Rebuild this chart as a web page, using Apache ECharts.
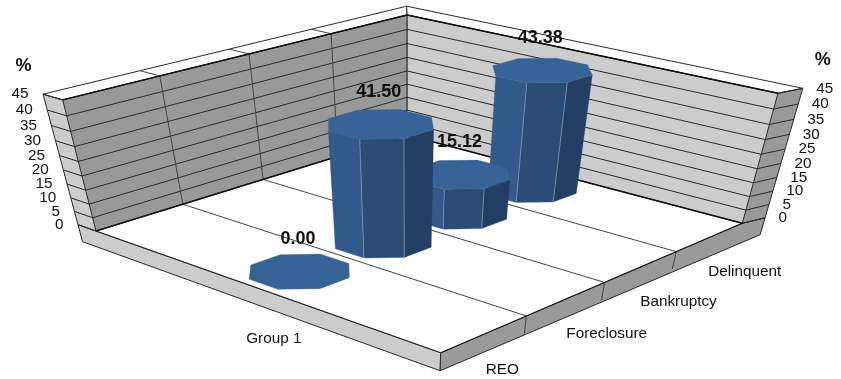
<!DOCTYPE html>
<html>
<head>
<meta charset="utf-8">
<style>html,body{margin:0;padding:0;background:#fff}#chart{width:841px;height:379px}</style>
<script src="https://cdn.jsdelivr.net/npm/echarts@6/dist/echarts.min.js"></script>
</head>
<body>
<div id="chart"></div>
<script>
// Chart content
const categories = ['Group 1'];
const seriesNames = ['REO', 'Foreclosure', 'Bankruptcy', 'Delinquent'];
const seriesValues = [0.00, 41.50, 15.12, 43.38];
const valueTicks = [0, 5, 10, 15, 20, 25, 30, 35, 40, 45];
const axisTitle = '%';

// Camera: floor corners in pixels, vertical vanishing point, wall top at the back corner
const floorA = [96, 231], floorB = [440.7, 352.7], floorC = [742.3, 223.3], floorD = [407, 135];
const verticalVanish = [406, 1450];
const backTopY = 15;
const yMax = 45, baseDepth = 6.6, wallU = 0.062, wallS = 0.265, rightOuterU = 1.016;
const barU = 0.101, barS = 0.41, barCentreU = 0.502, columnScale = 0.975;

// Colours
const wallDark = '#999999', wallLight = '#cccccc', ink = '#2a2a2a';
const barTop = '#376397', barFaces = { left: '#325a8a', mid: '#2b4d75', right: '#233f63' }, barEdge = '#7f96b6';
const FONT = '"Liberation Sans", Arial, sans-serif';

// Perspective mapping of (u across the group, s along the series, h up) to pixels
const [wA, wB, wC] = (function () {
  const [ax, ay] = floorA, [bx, by] = floorB, [cx, cy] = floorC, [dx, dy] = floorD;
  const a11 = ax - bx, a12 = cx - bx, r1 = dx - bx;
  const a21 = ay - by, a22 = cy - by, r2 = dy - by;
  const det = a11 * a22 - a12 * a21;
  const a = (r1 * a22 - a12 * r2) / det, c = (a11 * r2 - r1 * a21) / det;
  return [a, a + c - 1, c];
})();
const hom = (p, w) => [p[0] * w, p[1] * w, w];
const p0 = hom(floorA, wA), p10 = hom(floorB, wB), p01 = hom(floorD, 1);
const du = p10.map((v, i) => v - p0[i]), ds = p01.map((v, i) => v - p0[i]);
const rTop = (backTopY - floorD[1]) / (verticalVanish[1] - backTopY);
const kV = hom(verticalVanish, rTop / yMax);
function project(u, s, h) {
  const t = s / seriesNames.length;
  const q = [0, 1, 2].map(i => p0[i] + u * du[i] + t * ds[i] + h * kV[i]);
  return [q[0] / q[2], q[1] / q[2]];
}

function poly(points, fill, stroke, lw) {
  return { type: 'polygon', shape: { points }, silent: true,
    style: { fill, stroke: stroke || fill, lineWidth: lw === undefined ? 0.6 : lw } };
}
function seg(a, b, lw, color) {
  return { type: 'line', shape: { x1: a[0], y1: a[1], x2: b[0], y2: b[1] }, silent: true,
    style: { stroke: color || ink, lineWidth: lw || 1, fill: null } };
}
function label(text, x, y, size, weight, align) {
  return { type: 'text', silent: true, style: { text, x, y, fontSize: size, fontWeight: weight || 'normal',
    fontFamily: FONT, fill: '#111', align: align || 'center', verticalAlign: 'middle' } };
}

// Walls, floor and base plate with their grid lines
function renderFrame() {
  const n = seriesNames.length, P = project, kids = [];
  const uOut = -wallU, sOut = n + wallS, uR = rightOuterU;
  // base plate
  kids.push(poly([P(uOut, 0, 0), P(1, 0, 0), P(1, 0, -baseDepth), P(uOut, 0, -baseDepth)], wallLight, ink, 1));
  kids.push(poly([P(1, 0, 0), P(1, n, 0), P(uR, sOut, 0), P(uR, sOut, -baseDepth), P(1, 0, -baseDepth)], wallDark, ink, 1));
  // floor
  kids.push(poly([P(0, 0, 0), P(1, 0, 0), P(1, n, 0), P(0, n, 0)], '#ffffff', '#ffffff', 0));
  // wall faces, tops and ends
  kids.push(poly([P(0, 0, 0), P(0, n, 0), P(0, n, yMax), P(0, 0, yMax)], wallDark));
  kids.push(poly([P(0, n, 0), P(1, n, 0), P(1, n, yMax), P(0, n, yMax)], wallLight));
  kids.push(poly([P(uOut, 0, 0), P(0, 0, 0), P(0, 0, yMax), P(uOut, 0, yMax)], wallLight, ink, 1));
  kids.push(poly([P(1, n, 0), P(uR, sOut, 0), P(uR, sOut, yMax), P(1, n, yMax)], wallDark, ink, 1));
  kids.push(poly([P(uOut, 0, yMax), P(0, 0, yMax), P(0, n, yMax), P(uOut, sOut, yMax)], '#ffffff', ink, 1));
  kids.push(poly([P(uOut, sOut, yMax), P(0, n, yMax), P(1, n, yMax), P(uR, sOut, yMax)], '#ffffff', ink, 1));
  // horizontal grid lines
  valueTicks.forEach(v => {
    kids.push(seg(P(uOut, 0, v), P(0, 0, v), 1));
    kids.push(seg(P(0, 0, v), P(0, n, v), 1));
    kids.push(seg(P(0, n, v), P(1, n, v), 1));
    kids.push(seg(P(1, n, v), P(uR, sOut, v), 1));
  });
  // series dividers across the floor, up the wall, over its top and down the base
  for (let s = 1; s < n; s++) {
    kids.push(seg(P(0, s, 0), P(1, s, 0), 1, '#444'));
    kids.push(seg(P(0, s, 0), P(0, s, yMax), 1, '#444'));
    kids.push(seg(P(0, s, yMax), P(uOut, s, yMax), 1, '#444'));
    kids.push(seg(P(1, s, 0), P(1, s, -baseDepth), 1, '#444'));
  }
  // heavier edges where the walls meet the floor and at the wall tops
  kids.push(seg(P(0, 0, 0), P(1, 0, 0), 1.2, '#222'));
  kids.push(seg(P(0, 0, 0), P(0, n, 0), 1.4, '#111'));
  kids.push(seg(P(0, n, 0), P(1, n, 0), 1.4, '#111'));
  kids.push(seg(P(1, 0, 0), P(1, n, 0), 1.2, '#111'));
  kids.push(seg(P(0, 0, yMax), P(0, n, yMax), 1.4, '#111'));
  kids.push(seg(P(0, n, yMax), P(1, n, yMax), 1.4, '#111'));
  kids.push(seg(P(0, n, 0), P(0, n, yMax), 1.2, '#222'));
  return { type: 'group', children: kids };
}

// One octagonal column per series, drawn from the back of the floor forward
const octagon = [[-0.414, -1], [0.414, -1], [1, -0.414], [1, 0.414], [0.414, 1], [-0.414, 1], [-1, 0.414], [-1, -0.414]];
const faceStyle = { 0: barFaces.left, 1: barFaces.mid, 2: barFaces.right };
function renderBar(params, api) {
  const sIdx = api.value(0), v = api.value(1) * columnScale;
  const sC = sIdx + 0.5;
  const ring = h => octagon.map(o => project(barCentreU + o[0] * barU, sC + o[1] * barS, h));
  const bottom = ring(0), top = ring(v), kids = [];
  if (v > 0) {
    [0, 1, 2].forEach(i => {
      const j = i + 1;
      kids.push(poly([top[i], top[j], bottom[j], bottom[i]], faceStyle[i], faceStyle[i], 0.3));
    });
    kids.push(seg(top[1], bottom[1], 0.8, barEdge));
    kids.push(seg(top[2], bottom[2], 0.8, barEdge));
  }
  kids.push(poly(top, barTop, barTop, 0.3));
  return { type: 'group', children: kids };
}

// Value captions above each column
function renderValueLabel(params, api) {
  const sIdx = api.value(0), v = api.value(1);
  const c = project(0.5, sIdx + 0.5, v * columnScale);
  return label(v.toFixed(2), c[0] - 1, c[1] - 32, 18, 'bold');
}

// Axis text placed next to the projected frame
function renderAxisText() {
  const n = seriesNames.length, kids = [];
  const uOut = -wallU, sOut = n + wallS;
  valueTicks.forEach(v => {
    const l = project(uOut, 0, v), r = project(rightOuterU, sOut, v);
    kids.push(label(String(v), l[0] - 14.5, l[1], 15.3, 'normal', 'right'));
    kids.push(label(String(v), r[0] + 13.5, r[1], 15.3, 'normal', 'left'));
  });
  const lt = project(uOut, 0, yMax), rt = project(rightOuterU, sOut, yMax);
  kids.push(label(axisTitle, lt[0] - 19.5, lt[1] - 28.5, 18, 'bold'));
  kids.push(label(axisTitle, rt[0] + 20, rt[1] - 28, 18, 'bold'));
  seriesNames.forEach((name, i) => {
    const p = project(1, i + 0.5, -baseDepth);
    kids.push(label(name, p[0] + 2.5, p[1] + 17.5, 15.3, 'normal', 'left'));
  });
  categories.forEach((name, i) => {
    const p = project((i + 0.5) / categories.length, 0, -baseDepth);
    kids.push(label(name, p[0] + 17, p[1] + 34, 15.3));
  });
  return { type: 'group', children: kids };
}

const barData = seriesNames.map((name, i) => [i, seriesValues[i]]).reverse();

const chart = echarts.init(document.getElementById('chart'), null, { renderer: 'canvas' });
chart.setOption({
  animation: false,
  backgroundColor: '#ffffff',
  tooltip: { show: false },
  grid: { left: 0, right: 0, top: 0, bottom: 0, show: false },
  xAxis: { type: 'category', data: seriesNames, show: false },
  yAxis: { type: 'value', min: 0, max: yMax, interval: 5, show: false },
  series: [
    { type: 'custom', name: 'frame', z: 1, data: [[0, 0]], renderItem: renderFrame, silent: true },
    { type: 'custom', name: 'columns', z: 2, data: barData, renderItem: renderBar, silent: true },
    { type: 'custom', name: 'captions', z: 3, data: barData, renderItem: renderValueLabel, silent: true },
    { type: 'custom', name: 'axisText', z: 3, data: [[0, 0]], renderItem: renderAxisText, silent: true }
  ]
});
</script>
</body>
</html>
